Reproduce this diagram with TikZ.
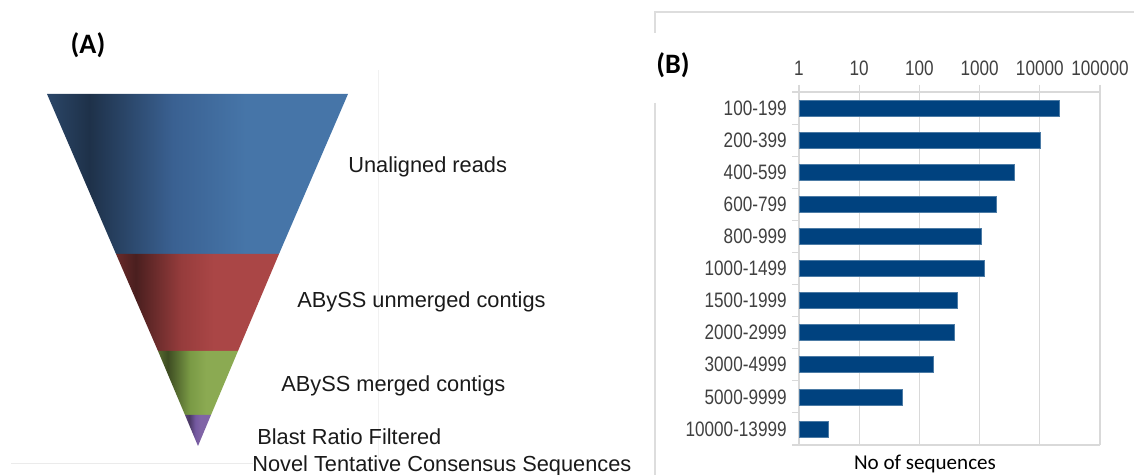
\documentclass[tikz,border=0pt]{standalone}
\usepackage{fontspec}
\setmainfont{Liberation Sans}
\newfontfamily\chartfont[FakeStretch=0.82]{Liberation Sans}
\newfontfamily\calibri{Carlito}
\usepackage{xcolor}
\definecolor{ink}{HTML}{1A1A1A}
\definecolor{axis-grey}{HTML}{404040}
\definecolor{grid-grey}{HTML}{D9D9D9}
\definecolor{frame-grey}{HTML}{DDDDDD}
\definecolor{bar-blue}{HTML}{00427F}
% funnel colours: edge, darkest, medium, light
\definecolor{blue-edge}{HTML}{2B4668}
\definecolor{blue-dark}{HTML}{1E3149}
\definecolor{blue-mid}{HTML}{3A6192}
\definecolor{blue-light}{HTML}{4675A8}
\definecolor{red-edge}{HTML}{6A2A2A}
\definecolor{red-dark}{HTML}{4A1F1F}
\definecolor{red-mid}{HTML}{963C3C}
\definecolor{red-light}{HTML}{AA4646}
\definecolor{green-edge}{HTML}{56692F}
\definecolor{green-dark}{HTML}{3D4C22}
\definecolor{green-mid}{HTML}{7A9A45}
\definecolor{green-light}{HTML}{8BAA52}
\definecolor{purple-edge}{HTML}{5A4478}
\definecolor{purple-dark}{HTML}{4A3864}
\definecolor{purple-mid}{HTML}{7459A0}
\definecolor{purple-light}{HTML}{8064A6}
\pgfdeclarehorizontalshading{blue-cone}{100bp}{color(0bp)=(blue-edge); color(25bp)=(blue-edge);
  color(32bp)=(blue-dark); color(46bp)=(blue-mid); color(58bp)=(blue-light); color(100bp)=(blue-light)}
\pgfdeclarehorizontalshading{red-cone}{100bp}{color(0bp)=(red-edge); color(25bp)=(red-edge);
  color(31bp)=(red-dark); color(45bp)=(red-mid); color(55bp)=(red-light); color(100bp)=(red-light)}
\pgfdeclarehorizontalshading{green-cone}{100bp}{color(0bp)=(green-edge); color(25bp)=(green-edge);
  color(31bp)=(green-dark); color(45bp)=(green-mid); color(55bp)=(green-light); color(100bp)=(green-light)}
\pgfdeclarehorizontalshading{purple-cone}{100bp}{color(0bp)=(purple-edge); color(25bp)=(purple-edge);
  color(33bp)=(purple-dark); color(45bp)=(purple-mid); color(55bp)=(purple-light); color(100bp)=(purple-light)}

\begin{document}
\begin{tikzpicture}[x={(0.02cm,0)}, y={(0,-0.02cm)},
  every node/.style={inner sep=0pt},
  stage/.style={anchor=base west, text=ink, font={\fontsize{12.4}{14}\selectfont}},
  panel/.style={text=black, font={\calibri\bfseries\fontsize{16}{18}\selectfont}},
  catlabel/.style={anchor=east, text=axis-grey, font={\chartfont\fontsize{11.9}{13}\selectfont}},
  ticklabel/.style={text=axis-grey, font={\chartfont\fontsize{11.9}{13}\selectfont}},
  grid/.style={draw=grid-grey, line width=0.6pt},
  bar/.style={fill=bar-blue, draw=bar-blue!70!white, line width=0.3pt}]
  \useasboundingbox (0,0) rectangle (1134,475);

  % panel frames
  \draw[frame-grey, line width=0.6pt] (655,33) -- (655,12) -- (1134,12);
  \draw[frame-grey, line width=0.6pt] (655,103) -- (655,475);
  \draw[frame-grey!60, line width=0.5pt] (11,463) -- (253,463);
  \draw[frame-grey!40, line width=0.5pt] (378,70) -- (378,460);

  % (A) funnel
  \node[panel] (label-a) at (88,45) {(A)};
  \shade[shading=blue-cone] (47,94) -- (348,94) -- (279,254) -- (116,254) -- cycle;
  \shade[shading=red-cone] (116,254) -- (279,254) -- (238,351) -- (158,351) -- cycle;
  \shade[shading=green-cone] (158,351) -- (238,351) -- (211,415) -- (185,415) -- cycle;
  \shade[shading=purple-cone] (185,415) -- (211,415) -- (198,446) -- cycle;
  \node[stage] (reads) at (348,173) {Unaligned reads};
  \node[stage] (unmerged) at (297,308) {ABySS unmerged contigs};
  \node[stage] (merged) at (281,392) {ABySS merged contigs};
  \node[stage] (filtered) at (257,445) {Blast Ratio Filtered};
  \node[stage] (novel) at (252,472) {Novel Tentative Consensus Sequences};

  % (B) length histogram, log axis
  \node[panel] (label-b) at (673,65) {(B)};
  \foreach \t [count=\k from 0] in {1,10,100,1000,10000,100000} {
    \draw[grid] ({799+60.2*\k},85) -- ({799+60.2*\k},445);
    \node[ticklabel] (tick-\k) at ({799+60.2*\k},68) {\t};
  }
  \draw[grid] (792,92) -- (1101,92);
  \draw[grid] (792,445) -- (1100,445);
  \foreach \k in {1,...,10}
    \draw[grid] (792,{92+32.09*\k}) -- (799,{92+32.09*\k});
  % values in thousands of sequences
  \foreach \lbl/\val [count=\i] in {100-199/21, 200-399/10, 400-599/3.7,
      600-799/1.87, 800-999/1.05, 1000-1499/1.18, 1500-1999/0.42, 2000-2999/0.375,
      3000-4999/0.17, 5000-9999/0.051, 10000-13999/0.003} {
    \pgfmathsetmacro\yc{92+32.09*(\i-0.5)}
    \pgfmathsetmacro\xe{799+60.2*(3+log10(\val))}
    \draw[bar] (799,{\yc-8}) rectangle (\xe,{\yc+8});
    \node[catlabel] (cat-\i) at (787,\yc) {\lbl};
  }
  \node[anchor=base, text=black, font={\calibri\fontsize{12}{14}\selectfont}] (x-title) at (925,470) {No of sequences};
\end{tikzpicture}
\end{document}
